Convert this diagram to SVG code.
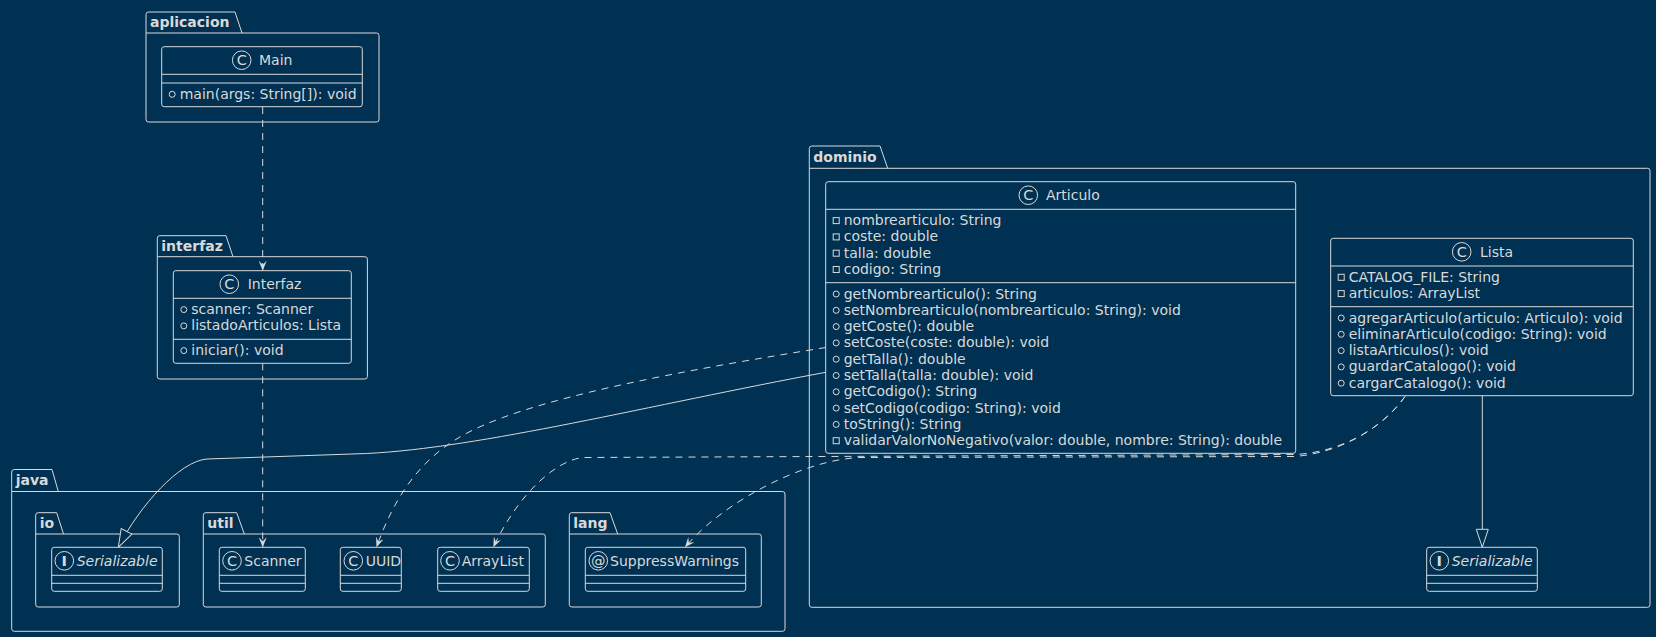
<svg xmlns="http://www.w3.org/2000/svg" width="1656" height="637" viewBox="0 0 1656 637">
<style>
.bg{fill:#003152}
.pk{fill:none;stroke:#d9d9d9;stroke-width:1}
.box{fill:#003152;stroke:#d9d9d9;stroke-width:1}
.ln{stroke:#d9d9d9;stroke-width:1}
.t{font-family:"DejaVu Sans","Liberation Sans",sans-serif;font-size:14px;fill:#d9d9d9}
.pl{font-weight:bold}
.it{font-style:italic}
.sp{fill:none;stroke:#d9d9d9;stroke-width:1}
.sl{font-family:"DejaVu Sans","Liberation Sans",sans-serif;font-size:14.5px;fill:#d9d9d9;text-anchor:middle}
.vis{fill:none;stroke:#d9d9d9;stroke-width:1}
.d{stroke-dasharray:7,6}
</style>
<defs>
<marker id="dep" markerUnits="userSpaceOnUse" viewBox="0 0 10 8" refX="10" refY="4" markerWidth="10" markerHeight="8" orient="auto">
<path d="M0,0 L10,4 L0,8 L4,4 Z" fill="#d9d9d9"/>
</marker>
<marker id="ext" markerUnits="userSpaceOnUse" viewBox="-1 -1 20 14" refX="18" refY="6" markerWidth="20" markerHeight="14" orient="auto">
<path d="M0,0 L18,6 L0,12 Z" fill="#003152" stroke="#d9d9d9" stroke-width="1"/>
</marker>
</defs>
<rect class="bg" x="0" y="0" width="1656" height="637"/>

<!-- packages -->
<g id="pkg-aplicacion">
<path class="pk" d="M146,33 V14.5 A2.5,2.5 0 0 1 148.5,12 H235 L242,33"/>
<path class="pk" d="M146,33 H376.5 A2.5,2.5 0 0 1 379,35.5 V119.5 A2.5,2.5 0 0 1 376.5,122 H148.5 A2.5,2.5 0 0 1 146,119.5 Z"/>
<text class="t pl" x="150" y="27">aplicacion</text>
</g>
<g id="pkg-interfaz">
<path class="pk" d="M157.3,256.7 V238.2 A2.5,2.5 0 0 1 159.8,235.7 H226 L233,256.7"/>
<path class="pk" d="M157.3,256.7 H364.9 A2.5,2.5 0 0 1 367.4,259.2 V376.5 A2.5,2.5 0 0 1 364.9,379 H159.8 A2.5,2.5 0 0 1 157.3,376.5 Z"/>
<text class="t pl" x="161.3" y="250.7">interfaz</text>
</g>
<g id="pkg-dominio">
<path class="pk" d="M809.3,168.3 V148.5 A2.5,2.5 0 0 1 811.8,146 H880 L887.7,168.3"/>
<path class="pk" d="M809.3,168.3 H1647.5 A2.5,2.5 0 0 1 1650,170.8 V604.8 A2.5,2.5 0 0 1 1647.5,607.3 H811.8 A2.5,2.5 0 0 1 809.3,604.8 Z"/>
<text class="t pl" x="813.3" y="162">dominio</text>
</g>
<g id="pkg-java">
<path class="pk" d="M11.7,491.5 V472 A2.5,2.5 0 0 1 14.2,469.5 H52 L58.3,491.5"/>
<path class="pk" d="M11.7,491.5 H782.5 A2.5,2.5 0 0 1 785,494 V628.8 A2.5,2.5 0 0 1 782.5,631.3 H14.2 A2.5,2.5 0 0 1 11.7,628.8 Z"/>
<text class="t pl" x="15.7" y="484.5">java</text>
</g>
<g id="pkg-io">
<path class="pk" d="M35.7,534 V515.2 A2.5,2.5 0 0 1 38.2,512.7 H56.7 L63.5,534"/>
<path class="pk" d="M35.7,534 H176.8 A2.5,2.5 0 0 1 179.3,536.5 V604.5 A2.5,2.5 0 0 1 176.8,607 H38.2 A2.5,2.5 0 0 1 35.7,604.5 Z"/>
<text class="t pl" x="39.7" y="527.5">io</text>
</g>
<g id="pkg-util">
<path class="pk" d="M203.3,534 V515.2 A2.5,2.5 0 0 1 205.8,512.7 H236.7 L244.3,534"/>
<path class="pk" d="M203.3,534 H542.8 A2.5,2.5 0 0 1 545.3,536.5 V604.5 A2.5,2.5 0 0 1 542.8,607 H205.8 A2.5,2.5 0 0 1 203.3,604.5 Z"/>
<text class="t pl" x="207.3" y="527.5">util</text>
</g>
<g id="pkg-lang">
<path class="pk" d="M569.3,534 V515.2 A2.5,2.5 0 0 1 571.8,512.7 H610 L617.7,534"/>
<path class="pk" d="M569.3,534 H758.8 A2.5,2.5 0 0 1 761.3,536.5 V604.5 A2.5,2.5 0 0 1 758.8,607 H571.8 A2.5,2.5 0 0 1 569.3,604.5 Z"/>
<text class="t pl" x="573.3" y="527.5">lang</text>
</g>

<!-- connectors -->
<g id="connectors" fill="none">
<path class="ln d" d="M262.7,107 V270.7" marker-end="url(#dep)"/>
<path class="ln d" d="M262.7,363.3 V547.3" marker-end="url(#dep)"/>
<path class="ln" d="M825.7,372.3 C650,405 480,448 366.6,453.5 L207,459 C180,461 140,505 118.3,547.3" marker-end="url(#ext)"/>
<path class="ln d" d="M825.7,347.5 C700,368 520,398 455,440 C420,462 395,495 376.5,547.3" marker-end="url(#dep)"/>
<path class="ln d" d="M1405,396.5 C1385,425 1345,452 1295,454.5 L585,457.5 C560,458 520,490 493.3,547.3" marker-end="url(#dep)"/>
<path class="ln d" d="M1405,396.5 C1385,425 1345,452 1295,456.5 L860,457.5 C800,460 720,505 685,547.3" marker-end="url(#dep)"/>
<path class="ln" d="M1482.3,395.7 V547.3" marker-end="url(#ext)"/>
</g>

<!-- classes -->
<g id="cls-Main">
<rect class="box" x="161.7" y="46.7" width="200.6" height="60" rx="2.5"/>
<line class="ln" x1="161.7" y1="74.3" x2="362.3" y2="74.3"/>
<line class="ln" x1="161.7" y1="83" x2="362.3" y2="83"/>
<circle class="sp" cx="241.7" cy="60.2" r="9.3"/>
<text class="sl" x="241.7" y="65.4">C</text>
<text class="t" x="259" y="65.2">Main</text>
<circle class="vis" cx="172.2" cy="94.3" r="3"/>
<text class="t" x="179.7" y="98.8">main(args: String[]): void</text>
</g>

<g id="cls-Interfaz">
<rect class="box" x="173.3" y="270.7" width="178" height="92.6" rx="2.5"/>
<line class="ln" x1="173.3" y1="298.3" x2="351.3" y2="298.3"/>
<line class="ln" x1="173.3" y1="339.3" x2="351.3" y2="339.3"/>
<circle class="sp" cx="229.3" cy="284.2" r="9.3"/>
<text class="sl" x="229.3" y="289.4">C</text>
<text class="t" x="247.7" y="289.2">Interfaz</text>
<circle class="vis" cx="183.8" cy="309.6" r="3"/>
<text class="t" x="191.3" y="314.1">scanner: Scanner</text>
<circle class="vis" cx="183.8" cy="325.9" r="3"/>
<text class="t" x="191.3" y="330.4">listadoArticulos: Lista</text>
<circle class="vis" cx="183.8" cy="350.6" r="3"/>
<text class="t" x="191.3" y="355.1">iniciar(): void</text>
</g>

<g id="cls-Articulo">
<rect class="box" x="825.7" y="181.7" width="470" height="271.6" rx="2.5"/>
<line class="ln" x1="825.7" y1="209.3" x2="1295.7" y2="209.3"/>
<line class="ln" x1="825.7" y1="282.7" x2="1295.7" y2="282.7"/>
<circle class="sp" cx="1028.3" cy="195.2" r="9.3"/>
<text class="sl" x="1028.3" y="200.4">C</text>
<text class="t" x="1046" y="200.2">Articulo</text>
<rect class="vis" x="833.2" y="217.6" width="6" height="6"/>
<text class="t" x="843.7" y="225.1">nombrearticulo: String</text>
<rect class="vis" x="833.2" y="233.9" width="6" height="6"/>
<text class="t" x="843.7" y="241.4">coste: double</text>
<rect class="vis" x="833.2" y="250.2" width="6" height="6"/>
<text class="t" x="843.7" y="257.7">talla: double</text>
<rect class="vis" x="833.2" y="266.5" width="6" height="6"/>
<text class="t" x="843.7" y="274">codigo: String</text>
<circle class="vis" cx="836.2" cy="294" r="3"/>
<text class="t" x="843.7" y="298.5">getNombrearticulo(): String</text>
<circle class="vis" cx="836.2" cy="310.3" r="3"/>
<text class="t" x="843.7" y="314.8">setNombrearticulo(nombrearticulo: String): void</text>
<circle class="vis" cx="836.2" cy="326.6" r="3"/>
<text class="t" x="843.7" y="331.1">getCoste(): double</text>
<circle class="vis" cx="836.2" cy="342.9" r="3"/>
<text class="t" x="843.7" y="347.4">setCoste(coste: double): void</text>
<circle class="vis" cx="836.2" cy="359.2" r="3"/>
<text class="t" x="843.7" y="363.7">getTalla(): double</text>
<circle class="vis" cx="836.2" cy="375.5" r="3"/>
<text class="t" x="843.7" y="380">setTalla(talla: double): void</text>
<circle class="vis" cx="836.2" cy="391.8" r="3"/>
<text class="t" x="843.7" y="396.3">getCodigo(): String</text>
<circle class="vis" cx="836.2" cy="408.1" r="3"/>
<text class="t" x="843.7" y="412.6">setCodigo(codigo: String): void</text>
<circle class="vis" cx="836.2" cy="424.4" r="3"/>
<text class="t" x="843.7" y="428.9">toString(): String</text>
<rect class="vis" x="833.2" y="437.7" width="6" height="6"/>
<text class="t" x="843.7" y="445.2">validarValorNoNegativo(valor: double, nombre: String): double</text>
</g>

<g id="cls-Lista">
<rect class="box" x="1330.7" y="238.3" width="302.6" height="157.4" rx="2.5"/>
<line class="ln" x1="1330.7" y1="266" x2="1633.3" y2="266"/>
<line class="ln" x1="1330.7" y1="306.7" x2="1633.3" y2="306.7"/>
<circle class="sp" cx="1461.7" cy="251.8" r="9.3"/>
<text class="sl" x="1461.7" y="257">C</text>
<text class="t" x="1480" y="256.8">Lista</text>
<rect class="vis" x="1338.2" y="274.3" width="6" height="6"/>
<text class="t" x="1348.7" y="281.8">CATALOG_FILE: String</text>
<rect class="vis" x="1338.2" y="290.6" width="6" height="6"/>
<text class="t" x="1348.7" y="298.1">articulos: ArrayList</text>
<circle class="vis" cx="1341.2" cy="318" r="3"/>
<text class="t" x="1348.7" y="322.5">agregarArticulo(articulo: Articulo): void</text>
<circle class="vis" cx="1341.2" cy="334.3" r="3"/>
<text class="t" x="1348.7" y="338.8">eliminarArticulo(codigo: String): void</text>
<circle class="vis" cx="1341.2" cy="350.6" r="3"/>
<text class="t" x="1348.7" y="355.1">listaArticulos(): void</text>
<circle class="vis" cx="1341.2" cy="366.9" r="3"/>
<text class="t" x="1348.7" y="371.4">guardarCatalogo(): void</text>
<circle class="vis" cx="1341.2" cy="383.2" r="3"/>
<text class="t" x="1348.7" y="387.7">cargarCatalogo(): void</text>
</g>

<g id="cls-dominio-Serializable">
<rect class="box" x="1426.7" y="547.3" width="110.6" height="44" rx="2.5"/>
<line class="ln" x1="1426.7" y1="575.3" x2="1537.3" y2="575.3"/>
<line class="ln" x1="1426.7" y1="583.3" x2="1537.3" y2="583.3"/>
<circle class="sp" cx="1439.3" cy="560.8" r="9.3"/>
<text class="sl pl" x="1439.3" y="566">I</text>
<text class="t it" x="1451.7" y="565.8">Serializable</text>
</g>

<g id="cls-io-Serializable">
<rect class="box" x="51.7" y="547.3" width="110.6" height="44" rx="2.5"/>
<line class="ln" x1="51.7" y1="575.3" x2="162.3" y2="575.3"/>
<line class="ln" x1="51.7" y1="583.3" x2="162.3" y2="583.3"/>
<circle class="sp" cx="64.3" cy="560.8" r="9.3"/>
<text class="sl pl" x="64.3" y="566">I</text>
<text class="t it" x="76.7" y="565.8">Serializable</text>
</g>

<g id="cls-Scanner">
<rect class="box" x="219.3" y="547.3" width="86" height="44" rx="2.5"/>
<line class="ln" x1="219.3" y1="575.3" x2="305.3" y2="575.3"/>
<line class="ln" x1="219.3" y1="583.3" x2="305.3" y2="583.3"/>
<circle class="sp" cx="232" cy="560.8" r="9.3"/>
<text class="sl" x="232" y="566">C</text>
<text class="t" x="244.3" y="565.8">Scanner</text>
</g>

<g id="cls-UUID">
<rect class="box" x="340.3" y="547.3" width="61" height="44" rx="2.5"/>
<line class="ln" x1="340.3" y1="575.3" x2="401.3" y2="575.3"/>
<line class="ln" x1="340.3" y1="583.3" x2="401.3" y2="583.3"/>
<circle class="sp" cx="353.3" cy="560.8" r="9.3"/>
<text class="sl" x="353.3" y="566">C</text>
<text class="t" x="365.7" y="565.8">UUID</text>
</g>

<g id="cls-ArrayList">
<rect class="box" x="437.7" y="547.3" width="91.6" height="44" rx="2.5"/>
<line class="ln" x1="437.7" y1="575.3" x2="529.3" y2="575.3"/>
<line class="ln" x1="437.7" y1="583.3" x2="529.3" y2="583.3"/>
<circle class="sp" cx="450" cy="560.8" r="9.3"/>
<text class="sl" x="450" y="566">C</text>
<text class="t" x="461.7" y="565.8">ArrayList</text>
</g>

<g id="cls-SuppressWarnings">
<rect class="box" x="585.3" y="547.3" width="160.4" height="44" rx="2.5"/>
<line class="ln" x1="585.3" y1="575.3" x2="745.7" y2="575.3"/>
<line class="ln" x1="585.3" y1="583.3" x2="745.7" y2="583.3"/>
<circle class="sp" cx="598.3" cy="560.8" r="9.3"/>
<text class="sl" x="598.3" y="566">@</text>
<text class="t" x="610" y="565.8">SuppressWarnings</text>
</g>
</svg>
